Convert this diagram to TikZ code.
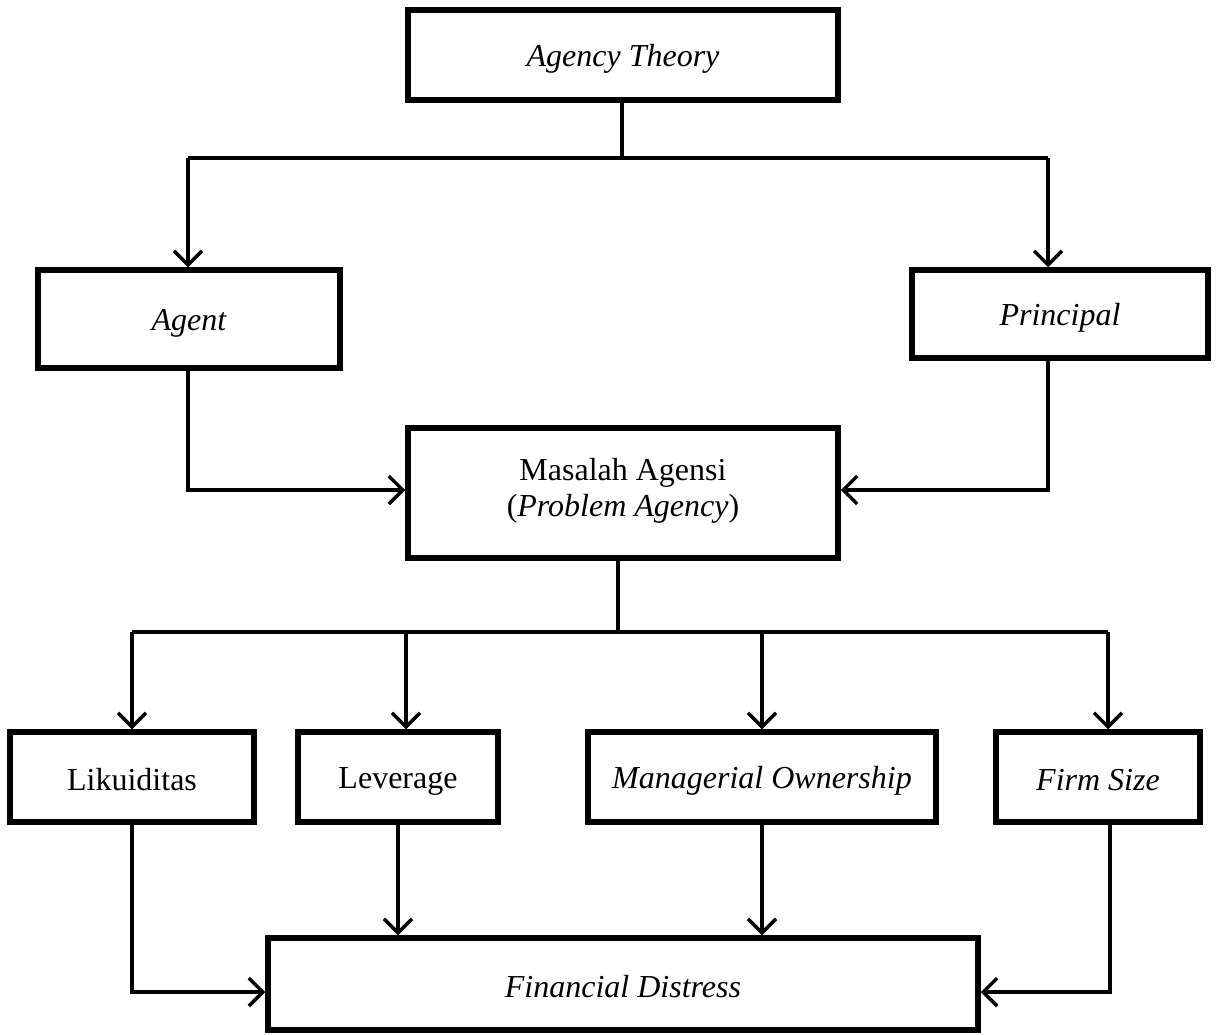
\documentclass[tikz,border=0pt]{standalone}
\usepackage{fontspec}
\setmainfont{Liberation Serif}
\usetikzlibrary{arrows.meta}
\begin{document}
\begin{tikzpicture}[x=1pt,y=-1pt,
  boxbase/.style={draw,line width=5.5pt,inner sep=0pt,font=\fontsize{32}{36}\selectfont,align=center},
  box/.style={boxbase,execute at begin node=\rule[-4pt]{0pt}{34pt}},
  conn/.style={line width=3.5pt},
  arr/.style={conn,-{Straight Barb[length=14pt,width=28pt,line width=3.5pt]}}]
\useasboundingbox (0,0) rectangle (1228,1034);
\node[box,minimum width=430pt,minimum height=90pt] (th) at (623,55) {\itshape Agency Theory};
\node[box,minimum width=302pt,minimum height=98pt] (ag) at (189,319) {\itshape Agent};
\node[box,minimum width=296pt,minimum height=88pt] (pr) at (1060,314) {\itshape Principal};
\node[boxbase,minimum width=430pt,minimum height=130pt] (ma) at (623,493) {\rule[-4pt]{0pt}{34pt}Masalah Agensi\\(\textit{Problem Agency})\rule[-19pt]{0pt}{19pt}};
\node[box,minimum width=244pt,minimum height=90pt] (li) at (132,777) {Likuiditas};
\node[box,minimum width=200pt,minimum height=90pt] (le) at (398,777) {Leverage};
\node[box,minimum width=348pt,minimum height=90pt] (mo) at (762,777) {\itshape Managerial Ownership};
\node[box,minimum width=204pt,minimum height=90pt] (fs) at (1098,777) {\itshape Firm Size};
\node[box,minimum width=710pt,minimum height=92pt] (fd) at (623,984) {\itshape Financial Distress};
\coordinate (t1) at (622,158);
\coordinate (m1) at (618,632);
% top split
\draw[conn] (th.south -| t1) -- (t1);
\draw[conn] (188,158) -- (1048,158);
\draw[arr] (188,158) -- (188,0 |- ag.north);
\draw[arr] (1048,158) -- (1048,0 |- pr.north);
\draw[arr] (188,0 |- ag.south) |- (ma.west |- 0,490);
\draw[arr] (1048,0 |- pr.south) |- (ma.east |- 0,490);
% middle split
\draw[conn] (ma.south -| m1) -- (m1);
\draw[conn] (132,632) -- (1108,632);
\draw[arr] (132,632) -- (li.north -| 132,0);
\draw[arr] (406,632) -- (le.north -| 406,0);
\draw[arr] (762,632) -- (mo.north -| 762,0);
\draw[arr] (1108,632) -- (fs.north -| 1108,0);
% bottom
\draw[arr] (li.south -| 132,0) |- (fd.west |- 0,992);
\draw[arr] (le.south -| 398,0) -- (fd.north -| 398,0);
\draw[arr] (mo.south -| 762,0) -- (fd.north -| 762,0);
\draw[arr] (fs.south -| 1110,0) |- (fd.east |- 0,992);
\end{tikzpicture}
\end{document}
